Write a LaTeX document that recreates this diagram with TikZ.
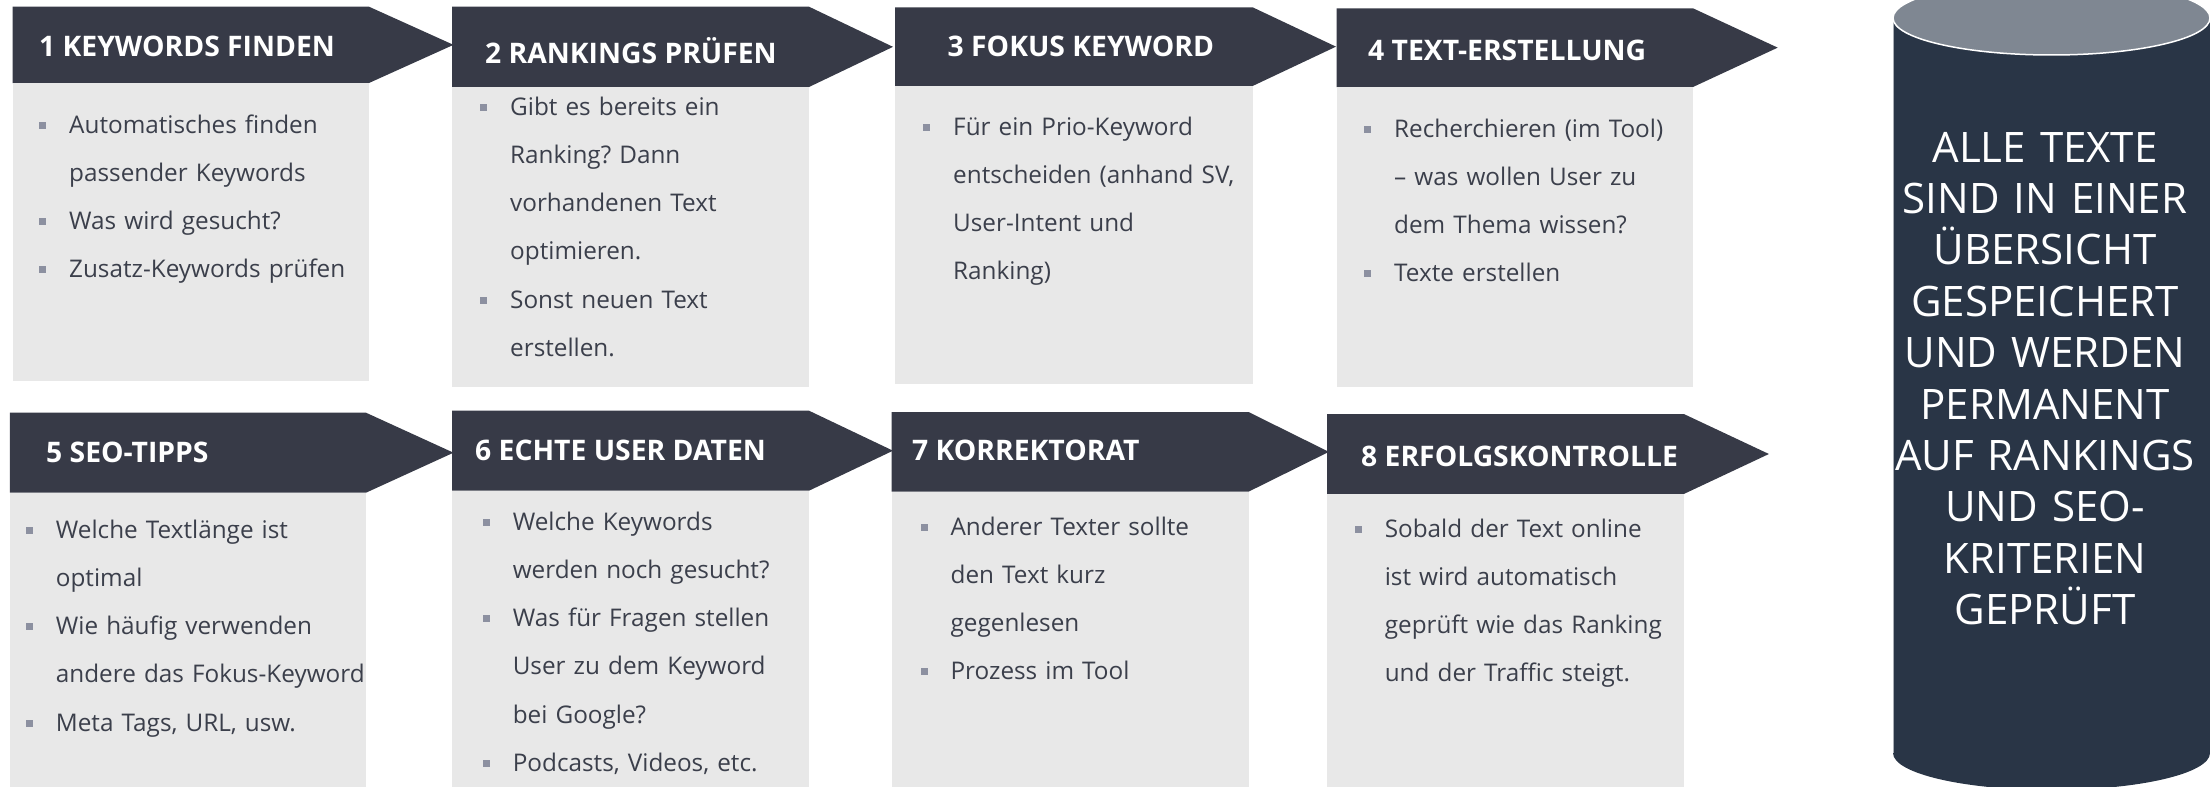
\documentclass[tikz,border=0pt]{standalone}
\usepackage{fontspec}
\setmainfont{Open Sans}
\newfontfamily\cylfont{Open Sans}
\frenchspacing
\definecolor{hdr}{HTML}{373A47}
\definecolor{bodyc}{HTML}{E8E8E8}
\definecolor{txt}{HTML}{3B3F4B}
\definecolor{bulc}{HTML}{8C90A0}
\definecolor{cylbody}{HTML}{293546}
\definecolor{cyltop}{HTML}{7F8792}
\newcommand{\bul}{\leavevmode\llap{\textcolor{bulc}{\rule[4.5bp]{7bp}{7bp}}\hspace{23bp}}}
% #1 left, #2 header top, #3 header bottom, #4 rect right, #5 tip x, #6 body bottom
\newcommand{\stepshape}[6]{%
  \fill[hdr] (#1,#2) -- (#4,#2) -- (#5,{(#2+#3)/2}) -- (#4,#3) -- (#1,#3) -- cycle;
  \fill[bodyc] (#1,#3) rectangle (#4,#6);}
\tikzset{
  steptitle/.style={anchor=base west, inner sep=0pt, text=white,
    font=\fontsize{28.3bp}{34bp}\selectfont\bfseries},
  bodytext/.style={anchor=base west, inner sep=0pt, text=txt, text width=330bp,
    align=left, font=\fontsize{24.3bp}{48.3bp}\selectfont\frenchspacing},
  cyltext/.style={anchor=base, inner sep=0pt, text=white, text width=317bp,
    align=center, font=\cylfont\fontsize{42bp}{51.4bp}\selectfont}
}
\begin{document}
\begin{tikzpicture}[x=1bp,y=-1bp]
\useasboundingbox (0,0) rectangle (2210,786);
\begin{scope}
\clip (0,0) rectangle (2210,786);
% row 1
\stepshape{12.6}{6.7}{83}{369}{453.5}{381}
\stepshape{452}{6.7}{87}{809}{893}{387}
\stepshape{895}{7.3}{86}{1252.6}{1336}{384}
\stepshape{1336.5}{8.3}{87}{1693}{1777.7}{387}
% row 2
\stepshape{9.8}{412.7}{492.7}{366}{453.5}{790}
\stepshape{452}{410.7}{490.7}{809}{893}{790}
\stepshape{891.7}{412}{491.7}{1248.5}{1328.9}{790}
\stepshape{1327}{414}{494}{1683.8}{1768.9}{790}
% cylinder
\fill[cylbody] (1893,18) -- (1893,753)
  arc[start angle=180, end angle=0, x radius=158.5, y radius=37] -- (2210,18) -- cycle;
\draw[white!60!cylbody, line width=0.8bp] (1893.4,18) -- (1893.4,753);
\filldraw[fill=cyltop, draw=white, line width=1.5bp] (2051.5,18) ellipse [x radius=158.5, y radius=37];
\end{scope}

\node[steptitle] (t1) at (39,57) {1 KEYWORDS FINDEN};
\node[steptitle] (t2) at (485,64) {2 RANKINGS PRÜFEN};
\node[steptitle] (t3) at (947.5,57) {3 FOKUS KEYWORD};
\node[steptitle] (t4) at (1368,61) {4 TEXT-ERSTELLUNG};
\node[steptitle] (t5) at (46,462.7) {5 SEO-TIPPS};
\node[steptitle] (t6) at (475,460.7) {6 ECHTE USER DATEN};
\node[steptitle] (t7) at (912,460.7) {7 KORREKTORAT};
\node[steptitle] (t8) at (1361,466) {8 ERFOLGSKONTROLLE};

\node[bodytext] (b1) at (69,133) {\bul Automatisches finden\\passender Keywords\\\bul Was wird gesucht?\\\bul Zusatz-Keywords prüfen};
\node[bodytext] (b2) at (510,115) {\bul Gibt es bereits ein\\Ranking? Dann\\vorhandenen Text\\optimieren.\\\bul Sonst neuen Text\\erstellen.};
\node[bodytext] (b3) at (953,135) {\bul Für ein Prio-Keyword\\entscheiden (anhand SV,\\User-Intent und\\Ranking)};
\node[bodytext] (b4) at (1394,137) {\bul Recherchieren (im Tool)\\– was wollen User zu\\dem Thema wissen?\\\bul Texte erstellen};
\node[bodytext] (b5) at (55.7,538) {\bul Welche Textlänge ist\\optimal\\\bul Wie häufig verwenden\\andere das Fokus-Keyword\\\bul Meta Tags, URL, usw.};
\node[bodytext] (b6) at (512.6,530) {\bul Welche Keywords\\werden noch gesucht?\\\bul Was für Fragen stellen\\User zu dem Keyword\\bei Google?\\\bul Podcasts, Videos, etc.};
\node[bodytext] (b7) at (950.4,535) {\bul Anderer Texter sollte\\den Text kurz\\gegenlesen\\\bul Prozess im Tool};
\node[bodytext] (b8) at (1384.6,537) {\bul Sobald der Text online\\ist wird automatisch\\geprüft wie das Ranking\\und der Traffic steigt.};

\node[cyltext] (cyl) at (2045,162) {ALLE TEXTE\\SIND IN EINER\\ÜBERSICHT\\GESPEICHERT\\UND WERDEN\\PERMANENT\\AUF RANKINGS\\UND SEO-\\KRITERIEN\\GEPRÜFT};
\end{tikzpicture}
\end{document}
